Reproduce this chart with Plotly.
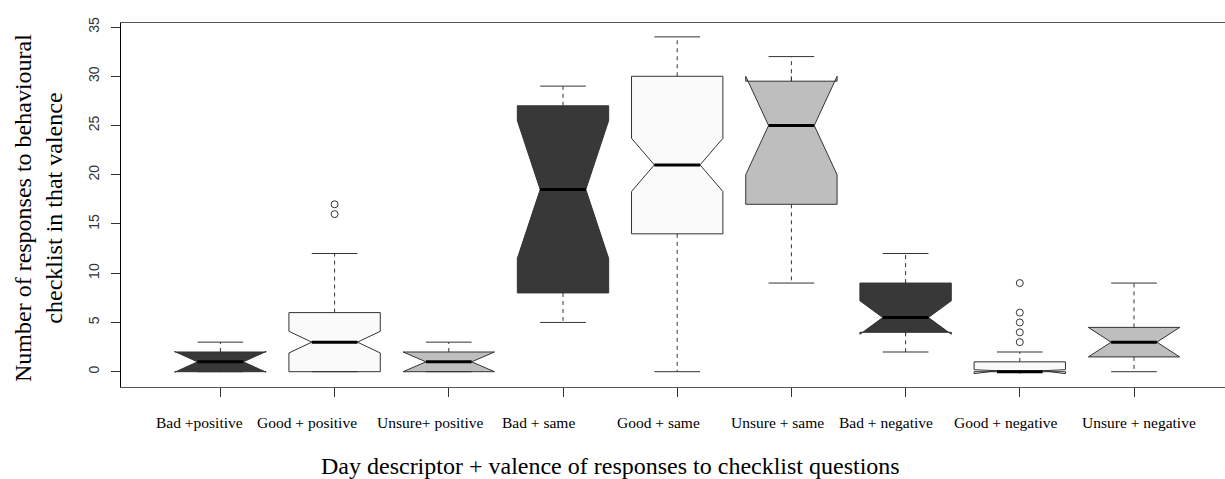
import plotly.graph_objects as go

# ---------------- data ----------------
categories = ["Bad +positive", "Good + positive", "Unsure+ positive",
              "Bad + same", "Good + same", "Unsure + same",
              "Bad + negative", "Good + negative", "Unsure + negative"]
q1 = [0, 0, 0, 8, 14, 17, 4, 0, 1.5]
median = [1, 3, 1, 18.5, 21, 25, 5.5, 0, 3]
q3 = [2, 6, 2, 27, 30, 29.5, 9, 1, 4.5]
lower_whisker = [0, 0, 0, 5, 0, 9, 2, 0, 0]
upper_whisker = [3, 12, 3, 29, 34, 32, 12, 2, 9]
notch_span = [1.05, 1.1, 1.0, 7.0, 2.7, 5.0, 1.7, 0.2, 1.5]
outlier_group = [1, 1, 7, 7, 7, 7, 7]
outlier_value = [16, 17, 3, 4, 5, 6, 9]
y_ticks = [0, 5, 10, 15, 20, 25, 30, 35]

# ---------------- styling ----------------
fills = ["#383838", "#FAFAFA", "#BEBEBE"]
box_w = 0.8
cap_half = box_w / 4
line_col = "#333333"
W, H = 1225, 479
ml, mr, mt, mb = 121, 0, 23, 92
tick0_px, step_px = 220.4, 114.2
label_center_px = [199.6, 307, 430, 538.8, 658.7, 777.7, 886, 1006, 1139]

pos = list(range(len(categories)))
fig = go.Figure()

for i, p in enumerate(pos):
    fig.add_trace(go.Box(
        x=[p], q1=[q1[i]], median=[median[i]], q3=[q3[i]],
        lowerfence=[q1[i]], upperfence=[q3[i]], notchspan=[notch_span[i]],
        notched=True, notchwidth=0.25, width=box_w, whiskerwidth=0,
        fillcolor=fills[i % 3], line=dict(color=line_col, width=1),
        boxpoints=False, showlegend=False, hoverinfo="skip"))

# dashed whiskers
wx, wy = [], []
for i, p in enumerate(pos):
    if upper_whisker[i] > q3[i]:
        wx += [p, p, None]; wy += [q3[i], upper_whisker[i], None]
    if lower_whisker[i] < q1[i]:
        wx += [p, p, None]; wy += [q1[i], lower_whisker[i], None]
fig.add_trace(go.Scatter(x=wx, y=wy, mode="lines", showlegend=False, hoverinfo="skip",
                         line=dict(color=line_col, width=1, dash="4px,4px")))

# whisker caps
cx, cy = [], []
for i, p in enumerate(pos):
    for v in (upper_whisker[i], lower_whisker[i]):
        cx += [p - cap_half, p + cap_half, None]; cy += [v, v, None]
fig.add_trace(go.Scatter(x=cx, y=cy, mode="lines", showlegend=False, hoverinfo="skip",
                         line=dict(color=line_col, width=1)))

# thick medians
mx, my = [], []
for i, p in enumerate(pos):
    mx += [p - cap_half, p + cap_half, None]; my += [median[i], median[i], None]
fig.add_trace(go.Scatter(x=mx, y=my, mode="lines", showlegend=False, hoverinfo="skip",
                         line=dict(color="black", width=3)))

# outliers
fig.add_trace(go.Scatter(x=[pos[g] for g in outlier_group], y=outlier_value, mode="markers",
                         showlegend=False, hoverinfo="skip",
                         marker=dict(symbol="circle-open", size=7, color=line_col,
                                     line=dict(width=1, color=line_col))))

plot_w = W - ml - mr
plot_h = H - mt - mb
x_lo = -(tick0_px - ml) / step_px
x_hi = (W - mr - tick0_px) / step_px

for i, c in enumerate(categories):
    fig.add_annotation(x=(label_center_px[i] - tick0_px) / step_px, xref="x",
                       y=-(422 - (H - mb)) / plot_h, yref="paper",
                       text=c, showarrow=False, xanchor="center", yanchor="middle",
                       font=dict(family="Liberation Serif", size=15.5, color="black"))

fig.add_annotation(x=(610 - ml) / plot_w, xref="paper", y=-(466 - (H - mb)) / plot_h, yref="paper",
                   text="Day descriptor + valence of responses to checklist questions",
                   showarrow=False, xanchor="center", yanchor="middle",
                   font=dict(family="Liberation Serif", size=24, color="black"))
fig.add_annotation(x=(38 - ml) / plot_w, xref="paper", y=((H - mb) - 208) / plot_h, yref="paper",
                   text="Number of responses to behavioural<br>checklist in that valence",
                   textangle=-90, showarrow=False, xanchor="center", yanchor="middle",
                   font=dict(family="Liberation Serif", size=24, color="black"))

fig.update_layout(
    width=W, height=H, margin=dict(l=ml, r=mr, t=mt, b=mb),
    paper_bgcolor="white", plot_bgcolor="white", boxmode="overlay",
    xaxis=dict(range=[x_lo, x_hi], tickvals=pos, ticktext=[""] * len(pos),
               ticks="outside", ticklen=9, tickcolor=line_col, showline=True,
               linecolor="#555555", linewidth=1, mirror=True, showgrid=False, zeroline=False),
    yaxis=dict(range=[-1.555, 35.41], tickvals=y_ticks, tickangle=-90,
               ticks="outside", ticklen=9, tickcolor=line_col, showline=True,
               linecolor="black", linewidth=1, showgrid=False, zeroline=False,
               ticklabelstandoff=6,
               tickfont=dict(family="Liberation Sans", size=14, color="#333333")),
)

fig.write_html("out.html", config={"displayModeBar": False},
               post_script="document.body.style.margin='0';document.body.style.padding='0';")
